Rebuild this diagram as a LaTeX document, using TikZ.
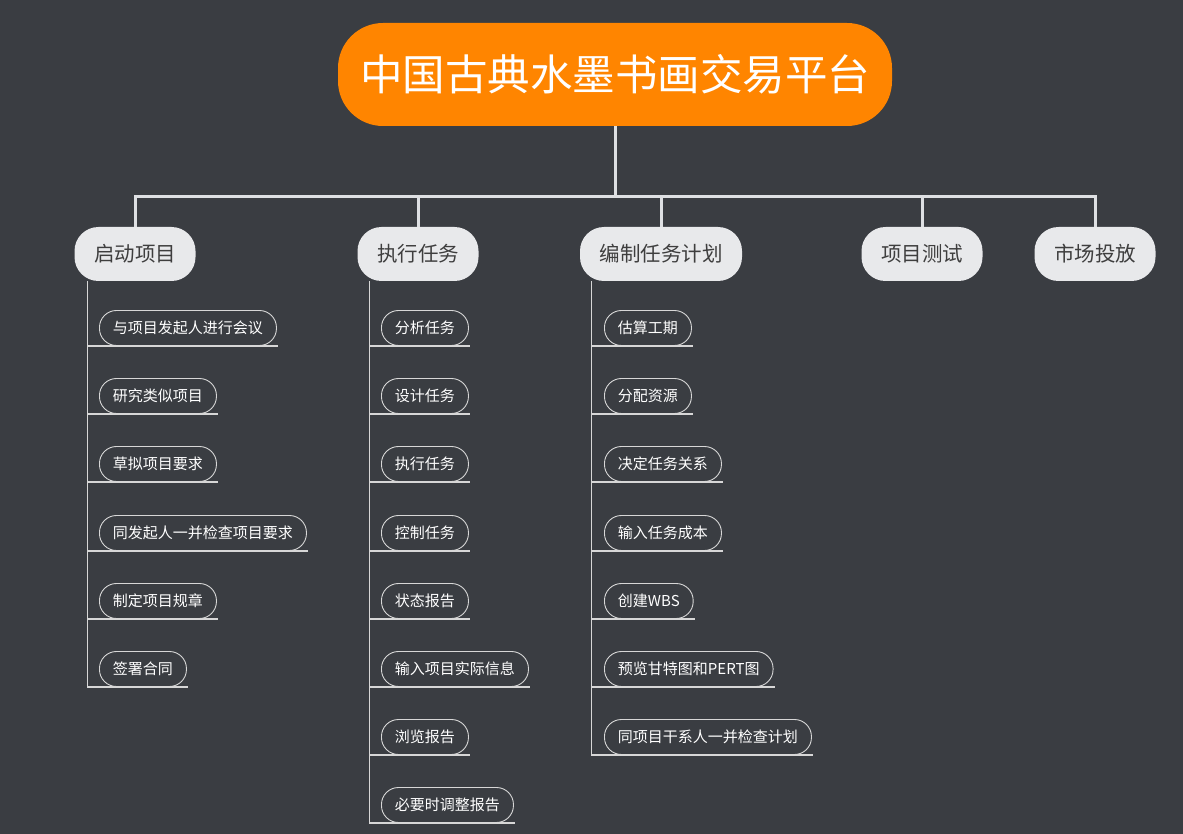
\documentclass[tikz,border=0pt]{standalone}
\usepackage{fontspec}
\setmainfont{Noto Sans CJK SC}
\definecolor{bgc}{RGB}{58,61,66}
\definecolor{rootc}{RGB}{255,133,0}
\definecolor{catc}{RGB}{232,233,235}
\definecolor{cattext}{RGB}{62,62,62}
\definecolor{linec}{RGB}{222,224,227}
\definecolor{leafline}{RGB}{215,215,215}
\tikzset{
  rootbox/.style={fill=rootc, rounded corners=45pt, minimum height=103pt, minimum width=554pt,
    inner xsep=22pt, text=white, font=\fontsize{42.5}{46}\selectfont},
  catbox/.style={fill=catc, rounded corners=24pt, minimum height=54pt, inner xsep=19.5pt,
    text=cattext, font=\fontsize{20.5}{24}\selectfont},
  leafbox/.style={draw=leafline, line width=0.9pt, rounded corners=17pt, minimum height=35pt,
    inner xsep=13.5pt, text=white, font=\fontsize{15}{18}\selectfont, anchor=west},
  trunk/.style={draw=linec, line width=3pt},
  branch/.style={draw=leafline, line width=1.1pt},
}
\begin{document}
\begin{tikzpicture}[x=1pt,y=-1pt]
\fill[bgc] (0,0) rectangle (1183,834);
\useasboundingbox (0,0) rectangle (1183,834);

\node[rootbox] (root) at (615,74.5) {中国古典水墨书画交易平台};

\node[catbox] (c1) at (135,254) {启动项目};
\node[catbox] (c2) at (418,254) {执行任务};
\node[catbox] (c3) at (661,254) {编制任务计划};
\node[catbox] (c4) at (922,254) {项目测试};
\node[catbox] (c5) at (1095,254) {市场投放};

\coordinate (bus) at (615,197);
\foreach \c in {c1,c2,c3,c4,c5}{
  \draw[trunk] (root.south) -- (bus) -| (\c.north);
}

% column 1
\node[leafbox] (a1) at (99,328) {与项目发起人进行会议};
\node[leafbox] (a2) at (99,396) {研究类似项目};
\node[leafbox] (a3) at (99,464) {草拟项目要求};
\node[leafbox] (a4) at (99,533) {同发起人一并检查项目要求};
\node[leafbox] (a5) at (99,601) {制定项目规章};
\node[leafbox] (a6) at (99,669) {签署合同};
\foreach \l in {a1,a2,a3,a4,a5,a6}{
  \draw[branch] ([xshift=13pt]c1.south west) |- ([xshift=1pt]\l.south east);
}

% column 2
\node[leafbox] (b1) at (381,328) {分析任务};
\node[leafbox] (b2) at (381,396) {设计任务};
\node[leafbox] (b3) at (381,464) {执行任务};
\node[leafbox] (b4) at (381,533) {控制任务};
\node[leafbox] (b5) at (381,601) {状态报告};
\node[leafbox] (b6) at (381,669) {输入项目实际信息};
\node[leafbox] (b7) at (381,737) {浏览报告};
\node[leafbox] (b8) at (381,805) {必要时调整报告};
\foreach \l in {b1,b2,b3,b4,b5,b6,b7,b8}{
  \draw[branch] ([xshift=12pt]c2.south west) |- ([xshift=1pt]\l.south east);
}

% column 3
\node[leafbox] (d1) at (604,328) {估算工期};
\node[leafbox] (d2) at (604,396) {分配资源};
\node[leafbox] (d3) at (604,464) {决定任务关系};
\node[leafbox] (d4) at (604,533) {输入任务成本};
\node[leafbox] (d5) at (604,601) {创建WBS};
\node[leafbox] (d6) at (604,669) {预览甘特图和PERT图};
\node[leafbox] (d7) at (604,737) {同项目干系人一并检查计划};
\foreach \l in {d1,d2,d3,d4,d5,d6,d7}{
  \draw[branch] ([xshift=12pt]c3.south west) |- ([xshift=1pt]\l.south east);
}
\end{tikzpicture}
\end{document}
